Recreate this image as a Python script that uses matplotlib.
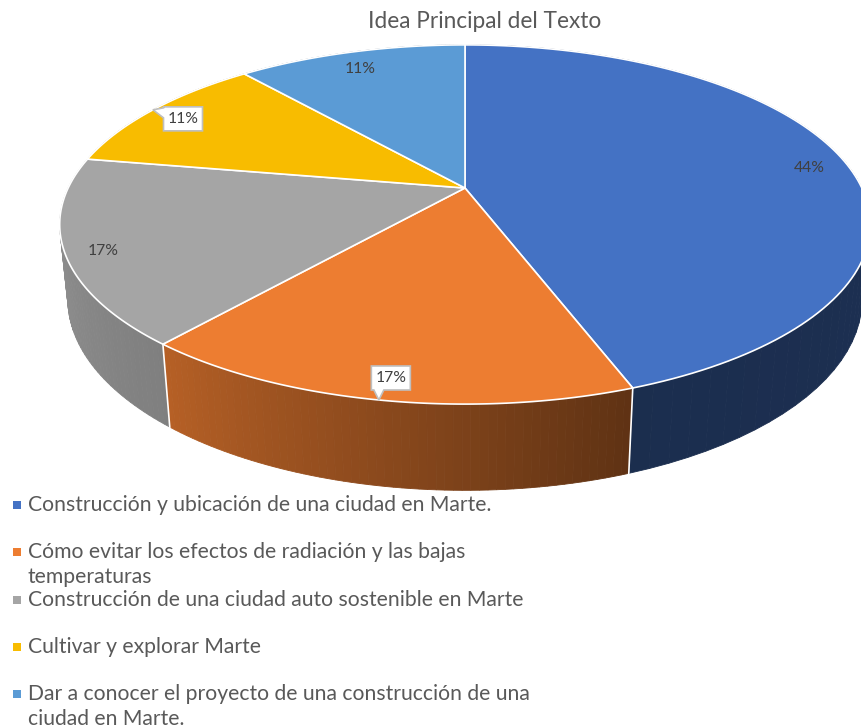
import numpy as np
import matplotlib
matplotlib.use("Agg")
import matplotlib.pyplot as plt
from matplotlib.patches import Polygon, Rectangle
from matplotlib.colors import to_rgb

title = "Idea Principal del Texto"
categories = [
    "Construcción y ubicación de una ciudad en Marte.",
    "Cómo evitar los efectos de radiación y las bajas\ntemperaturas",
    "Construcción de una ciudad auto sostenible en Marte",
    "Cultivar y explorar Marte",
    "Dar a conocer el proyecto de una construcción de una\nciudad en Marte.",
]
values = [8, 3, 3, 2, 2]
colors = ["#4472c4", "#ed7d31", "#a5a5a5", "#f8bc00", "#5b9bd5"]

plt.rcParams['font.family'] = ['Lato', 'DejaVu Sans']

# simple perspective camera for the 3d pie
D, FX, FY, EL, H = 4.45, 1766.0, 1793.0, np.radians(25.3), 0.205
CX, CY = 465, 188


def proj(theta, r=1.0, z=0.0):
    x = r * np.cos(theta)
    y = r * np.sin(theta)
    w = D + y * np.cos(EL) - z * np.sin(EL)
    return CX + FX * x / w, CY - FY * (y * np.sin(EL) + z * np.cos(EL)) / w


def shade(theta):
    deg = (np.degrees(theta) + 190) % 360 - 190
    return np.interp(deg, [-190, -130, -70, 0, 10], [0.92, 0.77, 0.40, 0.42, 0.42])


total = sum(values)
bounds = np.radians(90 - 360 * np.concatenate([[0], np.cumsum(values)]) / total)

fig = plt.figure(figsize=(8.61, 7.27), dpi=100)
ax = fig.add_axes([0, 0, 1, 1])
ax.set_xlim(0, 861)
ax.set_ylim(727, 0)
ax.axis('off')

# side walls, far strips first
strips = []
for i in range(len(values)):
    th = np.linspace(bounds[i], bounds[i + 1], 60)
    base = np.array(to_rgb(colors[i]))
    for t1, t2 in zip(th[:-1], th[1:]):
        quad = [proj(t1), proj(t2), proj(t2, z=-H), proj(t1, z=-H)]
        col = np.clip(base * shade((t1 + t2) / 2), 0, 1)
        strips.append((np.sin((t1 + t2) / 2), quad, col))
strips.sort(key=lambda s: -s[0])
for _, quad, col in strips:
    ax.add_patch(Polygon(quad, closed=True, fc=col, ec=col, lw=0.6))

for b in bounds:
    if np.sin(b) < 0:
        x0, y0 = proj(b)
        x1, y1 = proj(b, z=-H)
        ax.plot([x0, x1], [y0, y1], color='white', lw=1.2)

# top faces
for i in range(len(values)):
    th = np.linspace(bounds[i], bounds[i + 1], 120)
    pts = [proj(0, r=0)] + [proj(t) for t in th]
    ax.add_patch(Polygon(pts, closed=True, fc=colors[i], ec='white', lw=1.2,
                         joinstyle='round'))

# data labels
pcts = ["{:.0f}%".format(100 * v / total) for v in values]
callouts = {1: (12, -22, 'bottom'), 3: (30, 9, 'left')}
for i in range(len(values)):
    mid = (bounds[i] + bounds[i + 1]) / 2
    if i in callouts:
        tx, ty = proj(mid)
        dx, dy, side = callouts[i]
        bx, by = tx + dx, ty + dy
        w, h = 39, 24
        l, r, t, btm = bx - w / 2, bx + w / 2, by - h / 2, by + h / 2
        if side == 'bottom':
            pts = [(l, t), (r, t), (r, btm), (tx + 5, btm), (tx, ty), (tx - 5, btm), (l, btm)]
        else:
            pts = [(l, t), (r, t), (r, btm), (l, btm), (l, t + 11), (tx, ty), (l, t + 1)]
        ax.add_patch(Polygon(pts, closed=True, fc='white', ec='#bfbfbf', lw=1.2, zorder=5))
        ax.text(bx, by, pcts[i], ha='center', va='center', fontsize=11.3,
                color='#404040', zorder=6)
    else:
        x, y = proj(mid, r=0.91)
        ax.text(x, y + 6, pcts[i], ha='center', va='center', fontsize=11.3,
                color='#404040')

ax.text(485, 22, title, ha='center', va='center', fontsize=16.3, color='#595959')

# legend
for i, lab in enumerate(categories):
    y = 505 + 47.25 * i
    ax.add_patch(Rectangle((13, y - 4), 8, 8, fc=colors[i], ec='none'))
    for k, line in enumerate(lab.split('\n')):
        ax.text(28, y + 25 * k, line, ha='left', va='center', fontsize=15.2,
                color='#595959')

fig.savefig("out.png", dpi=100)
